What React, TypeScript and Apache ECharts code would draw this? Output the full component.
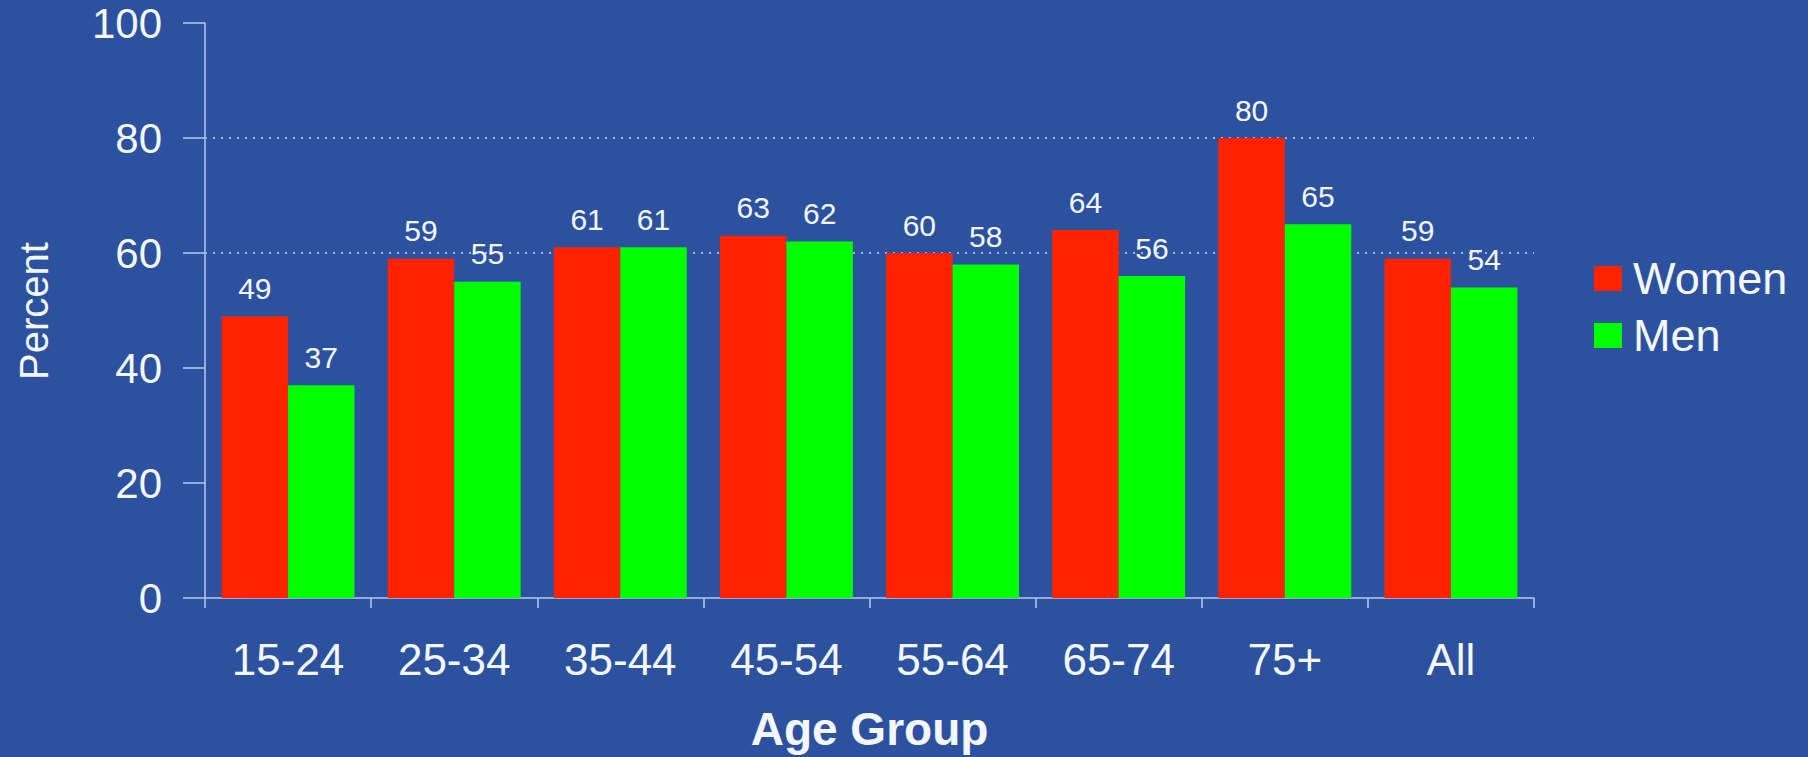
import React, { useEffect, useRef } from "react";
import * as echarts from "echarts";

const categories = ["15-24", "25-34", "35-44", "45-54", "55-64", "65-74", "75+", "All"];
const women = [49, 59, 61, 63, 60, 64, 80, 59];
const men = [37, 55, 61, 62, 58, 56, 65, 54];
const gridValues = [60, 80];
const seriesNames = ["Women", "Men"];

const BG = "#2C529F";
const RED = "#FF2200";
const GREEN = "#00FF00";
const TEXT = "#F4F7FF";
const AXIS = "#B9C9E8";
const FONT = "'Liberation Sans', Arial, sans-serif";

export default function App() {
  const ref = useRef<HTMLDivElement>(null);

  useEffect(() => {
    if (!ref.current) return;
    const chart = echarts.init(ref.current, undefined, { renderer: "svg" });

    const valueLabel = {
      show: true,
      position: "top" as const,
      distance: 13,
      color: TEXT,
      fontFamily: FONT,
      fontSize: 30,
    };

    chart.setOption({
      animation: false,
      backgroundColor: BG,
      grid: { left: 205, top: 23, right: 274, bottom: 153, containLabel: false },
      legend: {
        orient: "vertical",
        left: 1589,
        top: 251,
        icon: "rect",
        itemWidth: 28,
        itemHeight: 25,
        itemGap: 12,
        textStyle: { color: TEXT, fontFamily: FONT, fontSize: 45, padding: [0, 0, 0, 6] },
        data: seriesNames,
      },
      xAxis: {
        type: "category",
        data: categories,
        name: "Age Group",
        nameLocation: "middle",
        nameGap: 108,
        nameTextStyle: { color: TEXT, fontFamily: FONT, fontSize: 46, fontWeight: "bold" },
        axisLine: { show: true, lineStyle: { color: AXIS, width: 1.5 } },
        axisTick: { show: true, length: 10, lineStyle: { color: AXIS, width: 1.5 } },
        axisLabel: { color: TEXT, fontFamily: FONT, fontSize: 44, margin: 39 },
        splitLine: { show: false },
      },
      yAxis: {
        type: "value",
        min: 0,
        max: 100,
        interval: 20,
        axisLine: { show: true, lineStyle: { color: AXIS, width: 1.5 } },
        axisTick: { show: true, length: 22, lineStyle: { color: AXIS, width: 1.5 } },
        axisLabel: { color: TEXT, fontFamily: FONT, fontSize: 42, margin: 43 },
        splitLine: { show: false },
      },
      graphic: [
        {
          type: "text",
          x: 34,
          y: 311,
          rotation: Math.PI / 2,
          style: {
            text: "Percent",
            fill: TEXT,
            font: `40px ${FONT}`,
            align: "center",
            verticalAlign: "middle",
          },
        },
      ],
      series: [
        {
          name: seriesNames[0],
          type: "bar",
          data: women,
          itemStyle: { color: RED },
          barGap: "0%",
          barCategoryGap: "20%",
          label: valueLabel,
          markLine: {
            silent: true,
            z: 1,
            symbol: ["none", "none"],
            label: { show: false },
            lineStyle: { color: "#9FB3DA", type: [2, 6], width: 2 },
            data: gridValues.map((v) => ({ yAxis: v })),
          },
        },
        {
          name: seriesNames[1],
          type: "bar",
          data: men,
          itemStyle: { color: GREEN },
          barGap: "0%",
          barCategoryGap: "20%",
          label: valueLabel,
        },
      ],
    });

    return () => chart.dispose();
  }, []);

  return (
    <div
      ref={ref}
      style={{ position: "fixed", left: 0, top: 0, width: 1808, height: 757 }}
    />
  );
}
